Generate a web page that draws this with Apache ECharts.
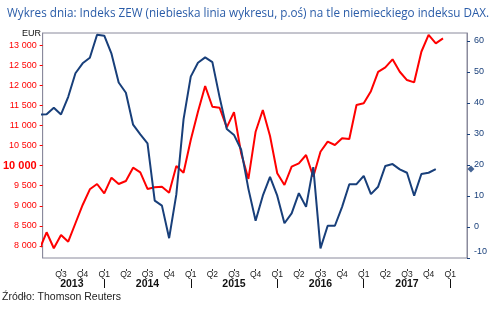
<!DOCTYPE html>
<html>
<head>
<meta charset="utf-8">
<script src="https://cdn.jsdelivr.net/npm/echarts@6/dist/echarts.min.js"></script>
<style>
  html, body { margin: 0; padding: 0; background: #fff; }
  #chart { width: 501px; height: 309px; }
</style>
</head>
<body>
<div id="chart"></div>
<script>
// miesiące liczone od stycznia 2013 (0 = I 2013)
const startMonth = 3; // kwiecień 2013
const xMin = 3.45;
const xMax = 62.33;

// ZEW, IV 2013 - XI 2017 (prawa oś)
const zew = [
  36.3, 36.4, 38.5, 36.3, 42.0, 49.6, 52.8, 54.6, 62.0,
  61.7, 55.9, 46.6, 43.3, 33.0, 29.9, 27.0, 8.5, 6.9, -3.6, 10.5, 34.7,
  48.5, 53.0, 54.7, 53.2, 41.9, 31.6, 29.7, 24.9, 12.3, 2.0, 10.1, 16.2,
  10.1, 1.2, 4.4, 10.9, 6.5, 19.3, -6.9, 0.4, 0.4, 6.5, 13.8, 13.8,
  16.5, 10.6, 13.0, 19.7, 20.3, 18.6, 17.5, 10.1, 17.1, 17.5, 18.7
];

// DAX, IV 2013 - XII 2017 (lewa oś, EUR)
const dax = [
  7913, 8340, 7943, 8274, 8107, 8565, 9020, 9410, 9542,
  9310, 9699, 9542, 9617, 9948, 9833, 9418, 9460, 9475, 9326, 9990, 9823,
  10637, 11340, 11980, 11465, 11440, 10950, 11330, 10300, 9667, 10843, 11383, 10736,
  9809, 9517, 9973, 10057, 10264, 9724, 10345, 10595, 10512, 10679, 10662, 11507,
  11550, 11853, 12333, 12445, 12644, 12336, 12129, 12072, 12833, 13256, 13042, 13167
];

const quarterTicks = [6, 9, 12, 15, 18, 21, 24, 27, 30, 33, 36, 39, 42, 45, 48, 51, 54, 57, 60];
const quarterNames = ['Q1', 'Q2', 'Q3', 'Q4'];
const yearTicks = [12, 24, 36, 48, 60];
const yearLabelPos = [7.5, 18, 30, 42, 54];
const yearNames = ['2013', '2014', '2015', '2016', '2017'];
const daxTicks = [8000, 8500, 9000, 9500, 10000, 10500, 11000, 11500, 12000, 12500, 13000];
const zewTicks = [-10, 0, 10, 20, 30, 40, 50, 60];

const navy = '#183f7a';
const red = '#ff0000';
const frame = '#8a8a9c';

function toPairs(arr) {
  return arr.map((v, i) => [startMonth + i, v]);
}

var myChart = echarts.init(document.getElementById('chart'));

myChart.setOption({
  animation: false,
  title: {
    text: 'Wykres dnia: Indeks ZEW (niebieska linia wykresu, p.oś) na tle niemieckiego indeksu DAX.',
    left: 2,
    top: 3,
    textStyle: { fontFamily: 'Open Sans', fontSize: 11.7, fontWeight: 'normal', color: '#2a5ca8' }
  },
  graphic: [
    {
      type: 'text', left: 22, top: 29,
      style: { text: 'EUR', fontFamily: 'Liberation Sans', fontSize: 9, fill: '#111' }
    },
    {
      type: 'text', left: 2, top: 292,
      style: { text: 'Źródło: Thomson Reuters', fontFamily: 'Liberation Sans', fontSize: 10.5, fill: '#222' }
    }
  ],
  grid: {
    left: 42, right: 34, top: 33, bottom: 51,
    show: true, borderColor: frame, borderWidth: 1
  },
  xAxis: [
    {
      type: 'value', min: xMin, max: xMax, offset: 11, position: 'bottom',
      axisLine: { show: false, onZero: false },
      splitLine: { show: false },
      axisTick: { show: true, customValues: quarterTicks, length: 2, lineStyle: { color: '#333' } },
      axisLabel: {
        customValues: quarterTicks, margin: 1,
        fontFamily: 'Liberation Sans', fontSize: 8.5, color: '#222',
        formatter: v => quarterNames[Math.round(v) % 12 / 3]
      }
    },
    {
      type: 'value', min: xMin, max: xMax, offset: 21, position: 'bottom',
      axisLine: { show: false, onZero: false },
      splitLine: { show: false },
      axisTick: { show: true, customValues: yearTicks, length: 9, lineStyle: { color: '#111' } },
      axisLabel: {
        customValues: yearLabelPos, margin: 0,
        fontFamily: 'Liberation Sans', fontSize: 10.5, fontWeight: 'bold', color: '#111',
        formatter: v => yearNames[yearLabelPos.indexOf(v)]
      }
    }
  ],
  yAxis: [
    {
      type: 'value', min: 7700, max: 13300, position: 'left',
      axisLine: { show: true, onZero: false, lineStyle: { color: frame } },
      splitLine: { show: false },
      axisTick: { show: true, customValues: daxTicks, length: 3, lineStyle: { color: red } },
      axisLabel: {
        customValues: daxTicks, margin: 6,
        fontFamily: 'Liberation Sans', fontSize: 9, color: red,
        formatter: v => {
          const s = String(v).replace(/\B(?=(\d{3})+(?!\d))/g, ' ');
          return v === 10000 ? '{big|' + s + '}' : s;
        },
        rich: { big: { fontFamily: 'Liberation Sans', fontSize: 11, fontWeight: 'bold', color: red } }
      }
    },
    {
      type: 'value', min: -10, max: 62.58, position: 'right',
      axisLine: { show: true, onZero: false, lineStyle: { color: frame } },
      splitLine: { show: false },
      axisTick: { show: true, customValues: zewTicks, length: 3, lineStyle: { color: navy } },
      axisLabel: {
        customValues: zewTicks, margin: 7,
        fontFamily: 'Liberation Sans', fontSize: 9, color: navy,
        formatter: v => v === -10 ? '{lo|-10}' : String(v),
        rich: { lo: { fontFamily: 'Liberation Sans', fontSize: 9, color: navy, padding: [0, 0, 12, 0] } }
      }
    }
  ],
  series: [
    {
      name: 'DAX', type: 'line', xAxisIndex: 0, yAxisIndex: 0,
      data: toPairs(dax), showSymbol: false,
      lineStyle: { color: red, width: 2 }, itemStyle: { color: red }
    },
    {
      name: 'ZEW', type: 'line', xAxisIndex: 0, yAxisIndex: 1,
      data: toPairs(zew), showSymbol: false,
      lineStyle: { color: navy, width: 2 }, itemStyle: { color: navy }
    },
    {
      // znacznik ostatniego odczytu ZEW przy prawej osi
      name: 'ZEW ostatni', type: 'scatter', xAxisIndex: 0, yAxisIndex: 1,
      clip: false, symbol: 'diamond', symbolSize: 7,
      data: [[xMax + 0.55, zew[zew.length - 1]]],
      itemStyle: { color: navy }
    }
  ]
});
</script>
</body>
</html>
